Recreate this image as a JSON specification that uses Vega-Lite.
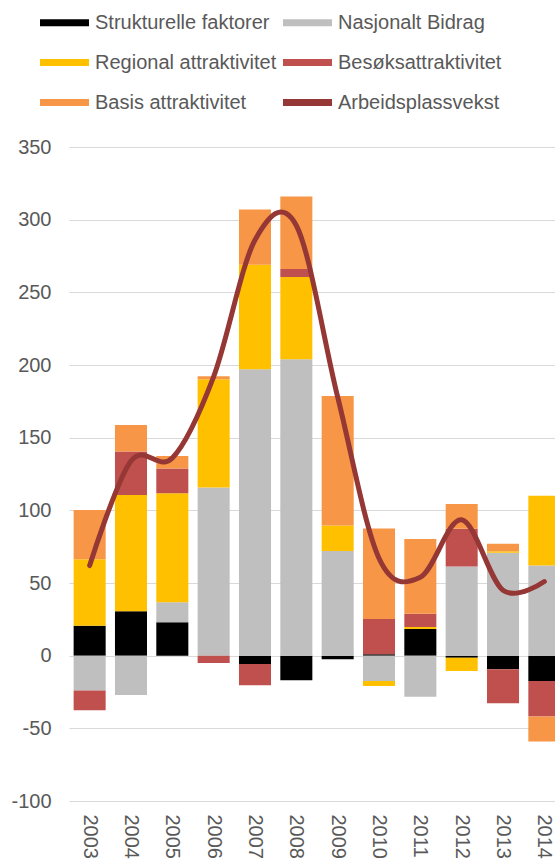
{
  "$schema": "https://vega.github.io/schema/vega-lite/v6.json",
  "autosize": {"type": "none"},
  "padding": {"left": 69, "top": 147, "right": 0, "bottom": 59},
  "width": 486,
  "height": 654,
  "background": "white",
  "config": {
    "view": {"stroke": null},
    "font": "Liberation Sans",
    "axis": {"labelFont": "Liberation Sans", "labelFontSize": 20, "labelColor": "#595959", "domain": false, "ticks": false, "title": null},
    "legend": {"labelFont": "Liberation Sans", "labelFontSize": 20, "labelColor": "#595959"}
  },
  "datasets": {
    "bars": [
      {"year": "2003", "series": "Strukturelle faktorer", "k": 1, "value": 20.6},
      {"year": "2003", "series": "Nasjonalt Bidrag", "k": 2, "value": -24},
      {"year": "2003", "series": "Regional attraktivitet", "k": 3, "value": 45.7},
      {"year": "2003", "series": "Besøksattraktivitet", "k": 4, "value": -13.5},
      {"year": "2003", "series": "Basis attraktivitet", "k": 5, "value": 34},
      {"year": "2004", "series": "Strukturelle faktorer", "k": 1, "value": 30.5},
      {"year": "2004", "series": "Nasjonalt Bidrag", "k": 2, "value": -27},
      {"year": "2004", "series": "Regional attraktivitet", "k": 3, "value": 80},
      {"year": "2004", "series": "Besøksattraktivitet", "k": 4, "value": 30},
      {"year": "2004", "series": "Basis attraktivitet", "k": 5, "value": 18.3},
      {"year": "2005", "series": "Strukturelle faktorer", "k": 1, "value": 23},
      {"year": "2005", "series": "Nasjonalt Bidrag", "k": 2, "value": 13.8},
      {"year": "2005", "series": "Regional attraktivitet", "k": 3, "value": 75},
      {"year": "2005", "series": "Besøksattraktivitet", "k": 4, "value": 17},
      {"year": "2005", "series": "Basis attraktivitet", "k": 5, "value": 8.5},
      {"year": "2006", "series": "Strukturelle faktorer", "k": 1, "value": 0},
      {"year": "2006", "series": "Nasjonalt Bidrag", "k": 2, "value": 115.7},
      {"year": "2006", "series": "Regional attraktivitet", "k": 3, "value": 74.5},
      {"year": "2006", "series": "Besøksattraktivitet", "k": 4, "value": -5},
      {"year": "2006", "series": "Basis attraktivitet", "k": 5, "value": 2},
      {"year": "2007", "series": "Strukturelle faktorer", "k": 1, "value": -5.7},
      {"year": "2007", "series": "Nasjonalt Bidrag", "k": 2, "value": 197},
      {"year": "2007", "series": "Regional attraktivitet", "k": 3, "value": 72},
      {"year": "2007", "series": "Besøksattraktivitet", "k": 4, "value": -14.7},
      {"year": "2007", "series": "Basis attraktivitet", "k": 5, "value": 38},
      {"year": "2008", "series": "Strukturelle faktorer", "k": 1, "value": -17},
      {"year": "2008", "series": "Nasjonalt Bidrag", "k": 2, "value": 204},
      {"year": "2008", "series": "Regional attraktivitet", "k": 3, "value": 56.5},
      {"year": "2008", "series": "Besøksattraktivitet", "k": 4, "value": 5.5},
      {"year": "2008", "series": "Basis attraktivitet", "k": 5, "value": 50},
      {"year": "2009", "series": "Strukturelle faktorer", "k": 1, "value": -2.5},
      {"year": "2009", "series": "Nasjonalt Bidrag", "k": 2, "value": 72},
      {"year": "2009", "series": "Regional attraktivitet", "k": 3, "value": 17.6},
      {"year": "2009", "series": "Besøksattraktivitet", "k": 4, "value": 0},
      {"year": "2009", "series": "Basis attraktivitet", "k": 5, "value": 89},
      {"year": "2010", "series": "Strukturelle faktorer", "k": 1, "value": 1},
      {"year": "2010", "series": "Nasjonalt Bidrag", "k": 2, "value": -17.4},
      {"year": "2010", "series": "Regional attraktivitet", "k": 3, "value": -3.4},
      {"year": "2010", "series": "Besøksattraktivitet", "k": 4, "value": 24.2},
      {"year": "2010", "series": "Basis attraktivitet", "k": 5, "value": 62.3},
      {"year": "2011", "series": "Strukturelle faktorer", "k": 1, "value": 18.3},
      {"year": "2011", "series": "Nasjonalt Bidrag", "k": 2, "value": -28.2},
      {"year": "2011", "series": "Regional attraktivitet", "k": 3, "value": 1.4},
      {"year": "2011", "series": "Besøksattraktivitet", "k": 4, "value": 9.2},
      {"year": "2011", "series": "Basis attraktivitet", "k": 5, "value": 51.3},
      {"year": "2012", "series": "Strukturelle faktorer", "k": 1, "value": -1.5},
      {"year": "2012", "series": "Nasjonalt Bidrag", "k": 2, "value": 61.4},
      {"year": "2012", "series": "Regional attraktivitet", "k": 3, "value": -9},
      {"year": "2012", "series": "Besøksattraktivitet", "k": 4, "value": 25.9},
      {"year": "2012", "series": "Basis attraktivitet", "k": 5, "value": 17},
      {"year": "2013", "series": "Strukturelle faktorer", "k": 1, "value": -9.4},
      {"year": "2013", "series": "Nasjonalt Bidrag", "k": 2, "value": 70.8},
      {"year": "2013", "series": "Regional attraktivitet", "k": 3, "value": 1},
      {"year": "2013", "series": "Besøksattraktivitet", "k": 4, "value": -23.3},
      {"year": "2013", "series": "Basis attraktivitet", "k": 5, "value": 5.2},
      {"year": "2014", "series": "Strukturelle faktorer", "k": 1, "value": -17.4},
      {"year": "2014", "series": "Nasjonalt Bidrag", "k": 2, "value": 62},
      {"year": "2014", "series": "Regional attraktivitet", "k": 3, "value": 48},
      {"year": "2014", "series": "Besøksattraktivitet", "k": 4, "value": -24.5},
      {"year": "2014", "series": "Basis attraktivitet", "k": 5, "value": -17.2}
    ],
    "line": [
      {"year": "2003", "series": "Arbeidsplassvekst", "value": 62},
      {"year": "2004", "series": "Arbeidsplassvekst", "value": 134},
      {"year": "2005", "series": "Arbeidsplassvekst", "value": 136},
      {"year": "2006", "series": "Arbeidsplassvekst", "value": 192},
      {"year": "2007", "series": "Arbeidsplassvekst", "value": 286},
      {"year": "2008", "series": "Arbeidsplassvekst", "value": 296},
      {"year": "2009", "series": "Arbeidsplassvekst", "value": 178},
      {"year": "2010", "series": "Arbeidsplassvekst", "value": 67},
      {"year": "2011", "series": "Arbeidsplassvekst", "value": 54},
      {"year": "2012", "series": "Arbeidsplassvekst", "value": 93.5},
      {"year": "2013", "series": "Arbeidsplassvekst", "value": 45},
      {"year": "2014", "series": "Arbeidsplassvekst", "value": 51}
    ]
  },
  "encoding": {
    "x": {
      "field": "year", "type": "nominal",
      "scale": {"range": [0, 496], "paddingInner": 0.225, "paddingOuter": 0.112},
      "axis": {"labelAngle": 90, "labelPadding": 13, "grid": false}
    },
    "y": {
      "field": "value", "type": "quantitative",
      "scale": {"domain": [-100, 350], "nice": false},
      "axis": {"values": [-100, -50, 0, 50, 100, 150, 200, 250, 300, 350], "labelPadding": 18, "gridColor": "#d9d9d9", "gridWidth": 1.2, "labelExpr": "datum.value + ''"}
    },
    "color": {
      "field": "series", "type": "nominal",
      "scale": {
        "domain": ["Strukturelle faktorer", "Regional attraktivitet", "Basis attraktivitet", "Nasjonalt Bidrag", "Besøksattraktivitet", "Arbeidsplassvekst"],
        "range": ["#000000", "#ffc000", "#f79646", "#bfbfbf", "#c0504d", "#953735"]
      },
      "legend": {
        "title": null, "orient": "none", "legendX": -29, "legendY": -149,
        "columns": 2, "columnPadding": 6, "rowPadding": 5,
        "symbolType": "M-1,-0.14H1V0.14H-1Z", "symbolSize": 2401,
        "symbolStrokeWidth": 0, "symbolOpacity": 1, "labelOffset": 6, "labelLimit": 400
      }
    }
  },
  "layer": [
    {
      "data": {"name": "bars"},
      "mark": {"type": "bar", "clip": true},
      "encoding": {
        "y": {"field": "value", "type": "quantitative", "stack": "zero"},
        "order": {"field": "k", "type": "quantitative", "sort": "ascending"}
      }
    },
    {
      "data": {"name": "line"},
      "mark": {"type": "line", "interpolate": "cardinal", "strokeWidth": 5, "strokeCap": "round", "clip": true},
      "encoding": {}
    }
  ]
}
